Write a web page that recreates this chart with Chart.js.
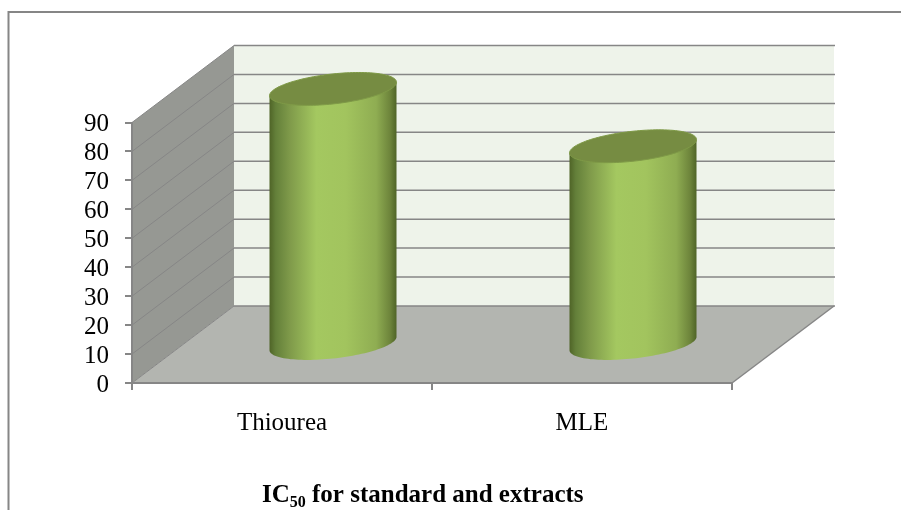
<!DOCTYPE html>
<html>
<head>
<meta charset="utf-8">
<title>IC50 for standard and extracts</title>
<script src="https://cdn.jsdelivr.net/npm/chart.js@4"></script>
<style>
    html, body { margin: 0; padding: 0; background: #fff; }
    canvas { display: block; }
</style>
</head>
<body>
<canvas id="chart" width="901" height="510"></canvas>
<script>
const categories = ["Thiourea", "MLE"];
const ic50Values = [88.3, 68.5];
const yAxisMax = 90;
const yAxisStep = 10;

const DEPTH_X = 102;
const DEPTH_Y = 77;
const LINE_COLOR = "#868686";
const SERIF = "'Liberation Serif', serif";

// bar element drawn as a cylinder standing halfway into the floor
class CylinderElement extends Chart.BarElement {
    static id = "cylinder";

    draw(ctx) {
        const { x, y, base, width } = this.getProps(["x", "y", "base", "width"]);
        const cx = x + DEPTH_X / 2;
        const topY = y - DEPTH_Y / 2;
        const baseY = base - DEPTH_Y / 2;
        const rx = width / 2;
        const tilt = 6.7;
        const ry = 15;

        const ellipsePoint = (cy, t) => [
            cx + rx * Math.cos(t),
            cy - tilt * Math.cos(t) + ry * Math.sin(t)
        ];

        const body = ctx.createLinearGradient(cx - rx, 0, cx + rx, 0);
        body.addColorStop(0, "#4f6427");
        body.addColorStop(0.05, "#64803a");
        body.addColorStop(0.16, "#7f9a4a");
        body.addColorStop(0.37, "#a4c860");
        body.addColorStop(0.6, "#a2c45e");
        body.addColorStop(0.84, "#8fad52");
        body.addColorStop(0.95, "#6d843b");
        body.addColorStop(1, "#4f6427");

        ctx.save();
        ctx.beginPath();
        ctx.moveTo(...ellipsePoint(topY, Math.PI));
        ctx.lineTo(...ellipsePoint(baseY, Math.PI));
        for (let i = 1; i <= 60; i++) {
            ctx.lineTo(...ellipsePoint(baseY, Math.PI - (Math.PI * i) / 60));
        }
        ctx.lineTo(...ellipsePoint(topY, 0));
        ctx.closePath();
        ctx.fillStyle = body;
        ctx.fill();

        ctx.beginPath();
        for (let i = 0; i <= 120; i++) {
            const [px, py] = ellipsePoint(topY, (Math.PI * 2 * i) / 120);
            if (i === 0) {
                ctx.moveTo(px, py);
            } else {
                ctx.lineTo(px, py);
            }
        }
        ctx.closePath();
        ctx.fillStyle = "#768c42";
        ctx.fill();
        ctx.strokeStyle = "#7f9a47";
        ctx.lineWidth = 1;
        ctx.stroke();
        ctx.restore();
    }
}

class CylinderController extends Chart.BarController {
    static id = "cylinder";
    static defaults = { ...Chart.BarController.defaults, dataElementType: "cylinder" };
}

Chart.register(CylinderElement, CylinderController);

function fillPolygon(ctx, points, fill) {
    ctx.beginPath();
    points.forEach(([px, py], i) => (i ? ctx.lineTo(px, py) : ctx.moveTo(px, py)));
    ctx.closePath();
    ctx.fillStyle = fill;
    ctx.fill();
}

function strokeLine(ctx, x1, y1, x2, y2, width) {
    ctx.beginPath();
    ctx.moveTo(x1, y1);
    ctx.lineTo(x2, y2);
    ctx.strokeStyle = LINE_COLOR;
    ctx.lineWidth = width;
    ctx.stroke();
}

const wallsPlugin = {
    id: "walls",
    beforeDraw(chart) {
        const { ctx, chartArea, scales } = chart;
        const { left, right, top, bottom } = chartArea;

        ctx.save();
        // outer frame, only top and left survive in the picture
        strokeLine(ctx, 8.5, 12, chart.width, 12, 2);
        strokeLine(ctx, 8.5, 11, 8.5, chart.height, 2);

        fillPolygon(ctx, [
            [left + DEPTH_X, top - DEPTH_Y],
            [right + DEPTH_X, top - DEPTH_Y],
            [right + DEPTH_X, bottom - DEPTH_Y],
            [left + DEPTH_X, bottom - DEPTH_Y]
        ], "#eef3ea");
        fillPolygon(ctx, [
            [left, bottom],
            [left, top],
            [left + DEPTH_X, top - DEPTH_Y],
            [left + DEPTH_X, bottom - DEPTH_Y]
        ], "#969893");
        fillPolygon(ctx, [
            [left, bottom],
            [right, bottom],
            [right + DEPTH_X, bottom - DEPTH_Y],
            [left + DEPTH_X, bottom - DEPTH_Y]
        ], "#b3b5b0");

        scales.y.ticks.forEach((tick) => {
            const py = scales.y.getPixelForValue(tick.value);
            strokeLine(ctx, left, py, left + DEPTH_X, py - DEPTH_Y, 1);
            strokeLine(ctx, left + DEPTH_X, py - DEPTH_Y, right + DEPTH_X + 1, py - DEPTH_Y, 1.5);
        });
        strokeLine(ctx, right, bottom, right + DEPTH_X, bottom - DEPTH_Y, 1.5);
        ctx.restore();
    },
    afterDraw(chart) {
        const { ctx } = chart;
        const baseline = 502;
        const parts = [
            ["IC", "bold 25px " + SERIF, baseline],
            ["50", "bold 16px " + SERIF, baseline + 5],
            [" for standard and extracts", "bold 25px " + SERIF, baseline]
        ];
        let penX = 262;
        ctx.save();
        ctx.fillStyle = "#000";
        ctx.textAlign = "left";
        ctx.textBaseline = "alphabetic";
        parts.forEach(([text, font, textY]) => {
            ctx.font = font;
            ctx.fillText(text, penX, textY);
            penX += ctx.measureText(text).width;
        });
        ctx.restore();
    }
};

new Chart(document.getElementById("chart"), {
    type: "cylinder",
    data: {
        labels: categories,
        datasets: [
            {
                data: ic50Values,
                clip: false,
                barPercentage: 1,
                categoryPercentage: 127 / 300
            }
        ]
    },
    plugins: [wallsPlugin],
    options: {
        responsive: false,
        animation: false,
        layout: { padding: { top: 122.5, right: 169, left: 0, bottom: 0 } },
        plugins: {
            legend: { display: false },
            title: { display: false },
            tooltip: { enabled: false }
        },
        scales: {
            x: {
                afterFit(scale) {
                    scale.height = 127;
                },
                grid: { drawOnChartArea: false, color: LINE_COLOR, lineWidth: 2, tickLength: 7 },
                border: { color: LINE_COLOR, width: 2 },
                ticks: { color: "#000", padding: 18, maxRotation: 0, font: { family: "Liberation Serif", size: 25 } }
            },
            y: {
                min: 0,
                max: yAxisMax,
                afterFit(scale) {
                    scale.width = 132;
                },
                grid: { drawOnChartArea: false, color: LINE_COLOR, lineWidth: 2, tickLength: 7 },
                border: { color: LINE_COLOR, width: 2 },
                ticks: { stepSize: yAxisStep, autoSkip: false, labelOffset: 2, color: "#000", padding: 16, font: { family: "Liberation Serif", size: 25 } }
            }
        }
    }
});
</script>
</body>
</html>
